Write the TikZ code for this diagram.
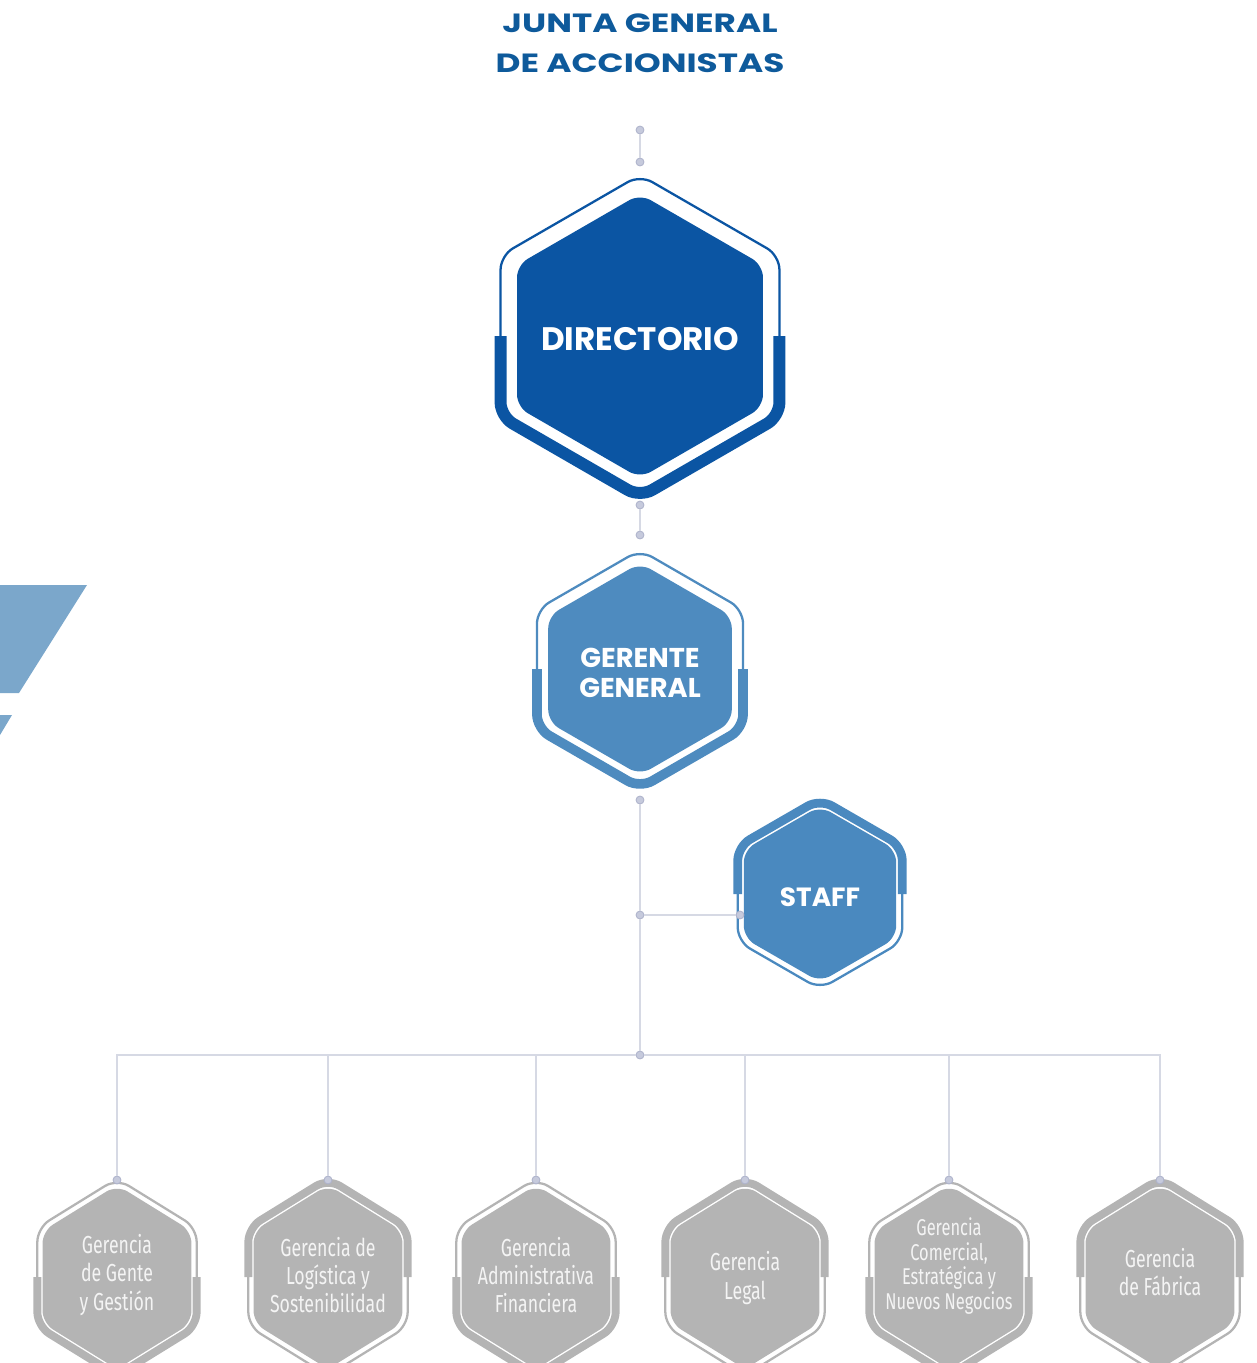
\documentclass[tikz,border=0pt]{standalone}
\usepackage{fontspec}
\setmainfont{Poppins}
\newfontfamily\titlefont[FakeStretch=1.3]{Poppins}
\newfontfamily\condfont[FakeStretch=0.72]{Fira Sans}

\definecolor{titleblue}{HTML}{0E5A9B}
\definecolor{dirblue}{HTML}{0B55A3}
\definecolor{midblue}{HTML}{4E8BBF}
\definecolor{staffblue}{HTML}{4A89BF}
\definecolor{unitgray}{HTML}{B4B4B4}
\definecolor{unittext}{HTML}{F4F4F4}
\definecolor{linegray}{HTML}{D6D9E4}
\definecolor{dotgray}{HTML}{C6CADC}
\definecolor{dotring}{HTML}{AEB3CB}
\definecolor{wedge}{HTML}{7BA7CB}

% hexagon with frame: x, y, fill radius, frame radius, colour, 1 = thick below / -1 = thick above, thick width
\newcommand{\hexcell}[7]{%
\fill[#5,rounded corners=7pt,shift={(#1,#2)}] (30:#3) -- (90:#3) -- (150:#3) -- (210:#3) -- (270:#3) -- (330:#3) -- cycle;
\draw[#5,line width=1.3pt,rounded corners=8pt,shift={(#1,#2)}] (30:#4) -- (90:#4) -- (150:#4) -- (210:#4) -- (270:#4) -- (330:#4) -- cycle;
\draw[#5,line width=#7,rounded corners=8pt,shift={(#1,#2)}] (0:{0.866*#4}) -- ({#6*30}:#4) -- ({#6*90}:#4) -- ({#6*150}:#4) -- ({#6*180}:{0.866*#4});
}

\begin{document}
\begin{tikzpicture}[x=0.02cm,y=-0.02cm,
  link/.style={draw=linegray,line width=1.3pt},
  joint/.style={circle,fill=dotgray,draw=dotring,line width=0.5pt,minimum size=4.5pt,inner sep=0pt},
  boss/.style={text=white,font=\bfseries\fontsize{15.5}{17}\selectfont,align=center},
  unit/.style={text=unittext,font=\condfont\fontsize{14}{16}\selectfont,align=center}]
\useasboundingbox (0,0) rectangle (1257,1363);

\fill[wedge] (0,585) -- (87,585) -- (19,693) -- (0,693) -- cycle;
\fill[wedge] (0,715) -- (12,715) -- (0,735) -- cycle;

\node[text=titleblue,font=\titlefont\bfseries\fontsize{15}{22.7}\selectfont,align=center] (junta) at (640,43) {JUNTA GENERAL\\DE ACCIONISTAS};

\hexcell{640}{336}{142}{161}{dirblue}{1}{6.8pt}
\hexcell{640}{669}{106}{119}{midblue}{1}{5.5pt}
\hexcell{820}{894}{88}{95}{staffblue}{-1}{5pt}
\foreach \x/\s in {117/1,328/-1,536/1,745/-1,949/1,1160/-1}{
  \begin{scope}[shift={(\x,1277)},yscale=1.07]
  \hexcell{0}{0}{86}{92}{unitgray}{\s}{4.5pt}
  \end{scope}
}

\node[boss,font=\bfseries\fontsize{18.5}{20}\selectfont] (dir) at (640,339) {DIRECTORIO};
\node[boss] (gg) at (640,673) {GERENTE\\GENERAL};
\node[boss,font=\bfseries\fontsize{15}{17}\selectfont] (staff) at (820,897) {STAFF};

\node[unit] (g1) at (117,1275) {Gerencia\\de Gente\\y Gestión};
\node[unit] (g2) at (328,1275) {Gerencia de\\Logística y\\Sostenibilidad};
\node[unit] (g3) at (536,1275) {Gerencia\\Administrativa\\Financiera};
\node[unit] (g4) at (745,1278) {Gerencia\\Legal};
\node[unit,font=\condfont\fontsize{13}{14.2}\selectfont] (g5) at (949,1266) {Gerencia\\Comercial,\\Estratégica y\\Nuevos Negocios};
\node[unit] (g6) at (1160,1272) {Gerencia\\de Fábrica};

\node[joint] (j1) at (640,130) {};
\node[joint] (j2) at (640,162) {};
\node[joint] (j3) at (640,505) {};
\node[joint] (j4) at (640,535) {};
\node[joint] (j5) at (640,800) {};
\node[joint] (j6) at (640,915) {};
\node[joint] (j7) at (740,915) {};
\node[joint] (bus) at (640,1055) {};
\foreach \x [count=\i] in {117,328,536,745,949,1160}
  \node[joint] (t\i) at (\x,1180) {};

\draw[link] (j1) -- (j2);
\draw[link] (j3) -- (j4);
\draw[link] (j5) -- (j6) -- (bus);
\draw[link] (j6) -- (j7);
\foreach \i in {1,...,6}
  \draw[link] (bus) -| (t\i);
\end{tikzpicture}
\end{document}
